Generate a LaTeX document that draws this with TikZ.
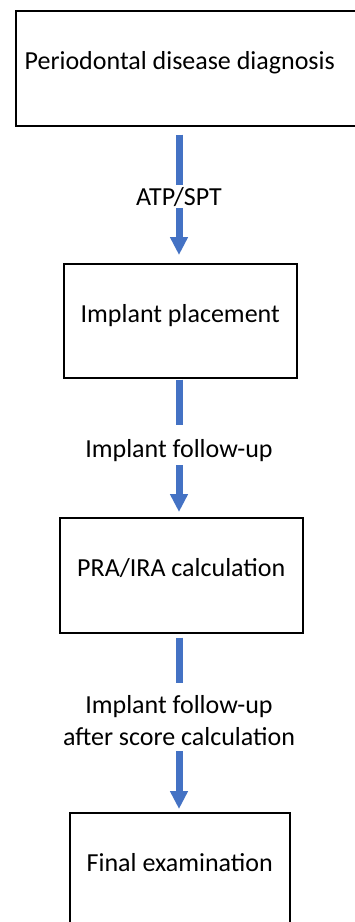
\documentclass[tikz,border=0pt]{standalone}
\usepackage{fontspec}
\setmainfont{Carlito}
\usetikzlibrary{arrows.meta}
\definecolor{arrowblue}{HTML}{4472C4}
\pgfdeclarelayer{background}
\pgfsetlayers{background,main}
\tikzset{
  stepbox/.style={draw=black, line width=1.5pt, fill=white, rectangle, anchor=north west,
    inner sep=0pt, minimum height=115pt, text height=17pt, text depth=14pt,
    font=\fontsize{26}{32}\selectfont},
  shaft/.style={draw=arrowblue, line width=7pt, -{Triangle[width=17pt,length=18pt]}},
  lbl/.style={fill=white, inner xsep=2pt, font=\fontsize{26}{32}\selectfont, align=center}
}
\begin{document}
\begin{tikzpicture}[x=1pt,y=-1pt]
\useasboundingbox (0,0) rectangle (355,922);
\clip (0,0) rectangle (355,922);
% boxes
\node[stepbox, minimum width=350pt] (b1) at (15,10) {\hspace*{-22pt}Periodontal disease diagnosis};
\node[stepbox, minimum width=233pt, minimum height=114pt] (b2) at (63,263) {Implant placement};
\node[stepbox, minimum width=243pt] (b3) at (59,517) {PRA/IRA calculation};
\node[stepbox, minimum width=220pt] (b4) at (69,812) {Final examination};
% labels (white fill breaks the shafts)
\node[lbl, anchor=base, text height=17pt, text depth=0pt, inner ysep=3pt] (l1) at (179,205) {ATP/SPT};
\node[lbl, anchor=base, text height=28pt, text depth=4pt, inner ysep=4pt] (l2) at (179,457) {Implant follow-up};
\node[lbl, inner ysep=0pt, minimum height=68pt] (l3) at (179,717) {\rule{0pt}{26pt}Implant follow-up\\after score calculation};
% arrows, behind the labels
\begin{pgfonlayer}{background}
\fill[white] (0,0) rectangle (355,922);
\draw[shaft, shorten <=8pt, shorten >=8pt] (l1 |- b1.south) -- (l1 |- b2.north);
\draw[shaft, shorten <=1pt, shorten >=5pt] (l2 |- b2.south) -- (l2 |- b3.north);
\draw[shaft, shorten <=4pt, shorten >=3pt] (l3 |- b3.south) -- (l3 |- b4.north);
\end{pgfonlayer}
\end{tikzpicture}
\end{document}
